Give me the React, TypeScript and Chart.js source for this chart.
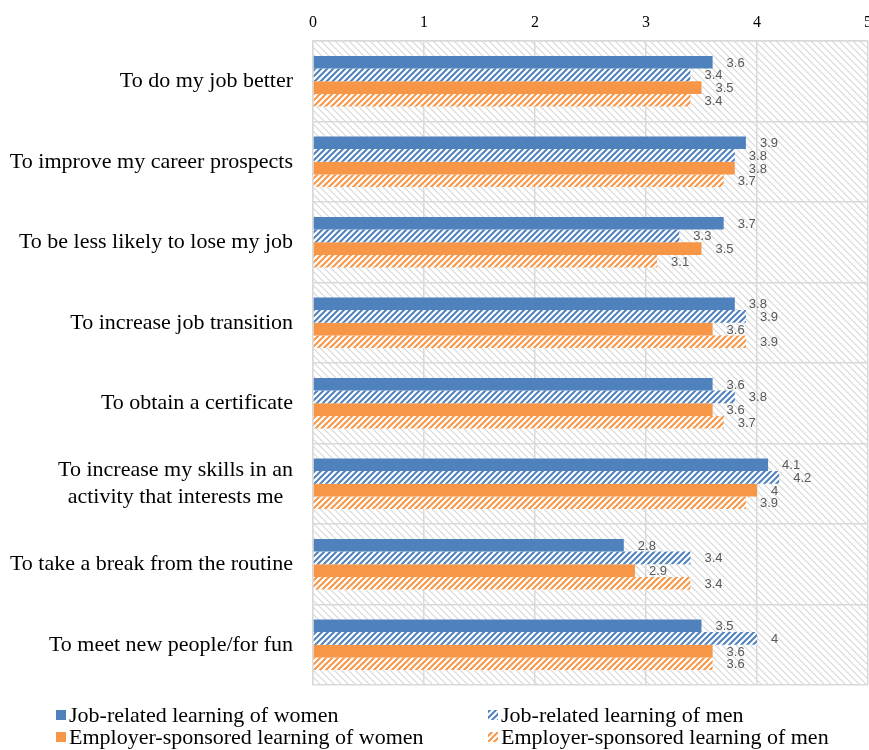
import React, { useEffect, useRef } from "react";
import { Chart, registerables } from "chart.js";

Chart.register(...registerables);

const categories: (string | string[])[] = [
  "To do my job better",
  "To improve my career prospects",
  "To be less likely to lose my job",
  "To increase job transition",
  "To obtain a certificate",
  ["To increase my skills in an", "activity that interests me"],
  "To take a break from the routine",
  "To meet new people/for fun",
];

const seriesLabels = [
  "Job-related learning of women",
  "Job-related learning of men",
  "Employer-sponsored learning of women",
  "Employer-sponsored learning of men",
];

const jobWomen = [3.6, 3.9, 3.7, 3.8, 3.6, 4.1, 2.8, 3.5];
const jobMen = [3.4, 3.8, 3.3, 3.9, 3.8, 4.2, 3.4, 4];
const empWomen = [3.5, 3.8, 3.5, 3.6, 3.6, 4, 2.9, 3.6];
const empMen = [3.4, 3.7, 3.1, 3.9, 3.7, 3.9, 3.4, 3.6];

const xTicks = [0, 1, 2, 3, 4, 5];

const BLUE = "#4F81BD";
const ORANGE = "#F79646";
const SERIF = '"Liberation Serif", "Times New Roman", serif';
const CAT_FONT_SIZE = 22;

function makeHatch(color: string, size: number, lw: number, up: boolean, bg: string | null) {
  const c = document.createElement("canvas");
  c.width = size;
  c.height = size;
  const g = c.getContext("2d")!;
  if (bg) {
    g.fillStyle = bg;
    g.fillRect(0, 0, size, size);
  }
  g.strokeStyle = color;
  g.lineWidth = lw;
  g.beginPath();
  if (up) {
    g.moveTo(-size, size * 2);
    g.lineTo(size * 2, -size);
    g.moveTo(-size, size);
    g.lineTo(size, -size);
    g.moveTo(0, size * 2);
    g.lineTo(size * 2, 0);
  } else {
    g.moveTo(-size, -size);
    g.lineTo(size * 2, size * 2);
    g.moveTo(-size, 0);
    g.lineTo(size, size * 2);
    g.moveTo(0, -size);
    g.lineTo(size * 2, size);
  }
  g.stroke();
  return g.createPattern(c, "repeat")!;
}

export default function App() {
  const ref = useRef<HTMLCanvasElement>(null);
  useEffect(() => {
    const canvas = ref.current!;
    const blueHatch = makeHatch(BLUE, 6, 2.0, true, "#ffffff");
    const orangeHatch = makeHatch(ORANGE, 6, 2.0, true, "#ffffff");
    const bgHatch = makeHatch("#d6d6d6", 7, 1.1, false, "#ffffff");
    const fills = [BLUE, blueHatch, ORANGE, orangeHatch];

    const bgPlugin = {
      id: "bgHatch",
      beforeDraw(chart: any) {
        const { ctx, chartArea } = chart;
        ctx.save();
        ctx.fillStyle = bgHatch;
        ctx.fillRect(chartArea.left, chartArea.top, chartArea.right - chartArea.left, chartArea.bottom - chartArea.top);
        ctx.restore();
      },
    };

    // multi-line category labels are drawn centred on each other (as in the reference)
    const multiLinePlugin = {
      id: "multiLineLabels",
      afterDraw(chart: any) {
        const { ctx } = chart;
        const yScale = chart.scales.y;
        ctx.save();
        ctx.font = CAT_FONT_SIZE + "px " + SERIF;
        ctx.fillStyle = "#000000";
        ctx.textAlign = "center";
        ctx.textBaseline = "middle";
        const lh = CAT_FONT_SIZE * 1.2;
        categories.forEach((lab, i) => {
          if (!Array.isArray(lab)) return;
          const w = Math.max(...lab.map((s) => ctx.measureText(s).width));
          const cx = yScale.right - 20 - w / 2;
          const cy = yScale.getPixelForTick(i);
          lab.forEach((s, k) => {
            ctx.fillText(s, cx, cy + (k - (lab.length - 1) / 2) * lh);
          });
        });
        ctx.restore();
      },
    };

    const labelPlugin = {
      id: "valueLabels",
      afterDatasetsDraw(chart: any) {
        const { ctx } = chart;
        ctx.save();
        ctx.font = '13px "Liberation Sans", Arial, sans-serif';
        ctx.fillStyle = "#595959";
        ctx.textAlign = "left";
        ctx.textBaseline = "middle";
        chart.data.datasets.forEach((ds: any, di: number) => {
          const meta = chart.getDatasetMeta(di);
          meta.data.forEach((el: any, i: number) => {
            ctx.fillText(String(ds.data[i]), el.x + 14, el.y + 1);
          });
        });
        ctx.restore();
      },
    };

    const legendPlugin = {
      id: "customLegend",
      afterDraw(chart: any) {
        const { ctx } = chart;
        const cols = [56, 488];
        const rows = [715, 737];
        ctx.save();
        ctx.font = "22px " + SERIF;
        ctx.textBaseline = "middle";
        ctx.textAlign = "left";
        chart.data.datasets.forEach((ds: any, di: number) => {
          const x = cols[di % 2];
          const y = rows[Math.floor(di / 2)];
          ctx.fillStyle = ds.backgroundColor;
          ctx.fillRect(x, y - 5, 10, 10);
          ctx.fillStyle = "#000000";
          ctx.fillText(ds.label, x + 13, y + 1);
        });
        ctx.restore();
      },
    };

    const datasets = [jobWomen, jobMen, empWomen, empMen].map((d, i) => ({
      label: seriesLabels[i],
      data: d,
      backgroundColor: fills[i],
      borderWidth: 0,
      categoryPercentage: 0.63,
      barPercentage: 1,
    }));

    const chart = new Chart(canvas, {
      type: "bar",
      data: { labels: categories, datasets },
      options: {
        indexAxis: "y",
        responsive: false,
        animation: false,
        layout: { padding: { left: 0, right: 32, top: 0, bottom: 65 } },
        plugins: { legend: { display: false }, tooltip: { enabled: false } },
        scales: {
          x: {
            position: "top",
            min: 0,
            max: 5,
            afterBuildTicks: (scale: any) => {
              scale.ticks = xTicks.map((v) => ({ value: v }));
            },
            afterFit: (scale: any) => {
              scale.height = 41;
            },
            ticks: { font: { family: SERIF, size: 16 }, color: "#000000", padding: 9 },
            grid: { color: "#d9d9d9", lineWidth: 1.5, drawTicks: false },
            border: { color: "#d9d9d9", width: 1.5 },
          },
          y: {
            afterFit: (scale: any) => {
              scale.width = 313;
            },
            ticks: {
              font: { family: SERIF, size: CAT_FONT_SIZE },
              color: (c: any) => (Array.isArray(categories[c.index]) ? "rgba(0,0,0,0)" : "#000000"),
              padding: 20,
            },
            grid: { color: "#d9d9d9", lineWidth: 1.5, drawTicks: false, offset: true },
            border: { color: "#d9d9d9", width: 1.5 },
          },
        },
      },
      plugins: [bgPlugin, labelPlugin, multiLinePlugin, legendPlugin],
    } as any);
    return () => chart.destroy();
  }, []);

  return (
    <div style={{ position: "fixed", left: 0, top: 0, width: 869, height: 750, overflow: "hidden", background: "#ffffff" }}>
      <canvas ref={ref} width={900} height={750} style={{ display: "block" }} />
    </div>
  );
}
